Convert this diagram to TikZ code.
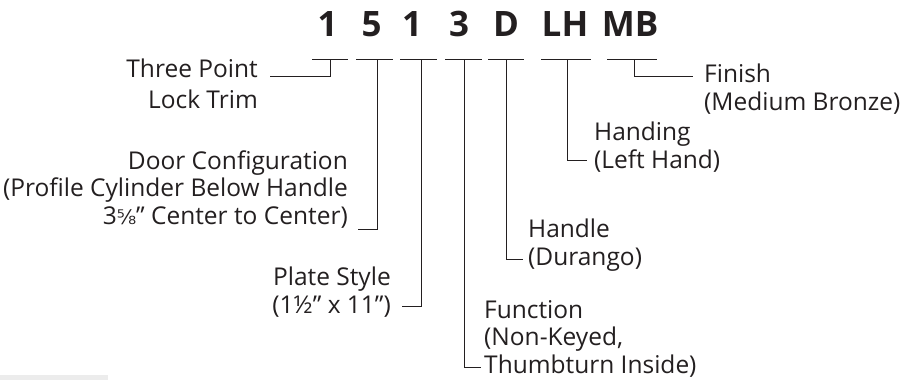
\documentclass[tikz,border=0pt]{standalone}
\usepackage{fontspec}
\setmainfont{Open Sans}
\newfontfamily\fracfont{DejaVu Sans}
\definecolor{ink}{RGB}{35,31,32}
\begin{document}
\begin{tikzpicture}[x=1pt,y=-1pt,
  codechar/.style={font=\fontsize{35}{40}\selectfont\bfseries, inner sep=0pt, anchor=base, text=ink},
  lbl/.style={font=\fontsize{24.5}{27.5}\selectfont, inner sep=0pt, text=ink},
  lblL/.style={lbl, align=right, anchor=base east},
  lblR/.style={lbl, align=left, anchor=base west},
  conn/.style={draw=ink, line width=1pt},
]
\useasboundingbox (0,0) rectangle (907,380);
\fill[gray!15] (0,375) rectangle (108,380);

% code characters
\node[codechar] (c1) at (327.5,36) {1};
\node[codechar] (c2) at (371.5,36) {5};
\node[codechar] (c3) at (412,36) {1};
\node[codechar] (c4) at (459,36) {3};
\node[codechar] (c5) at (506,36) {D};
\node[codechar] (c6) at (565,36) {LH};
\node[codechar] (c7) at (630,36) {MB};

% bars
\coordinate (b1l) at (312,59); \coordinate (b1r) at (348,59); \coordinate (b1) at (330,59);
\coordinate (b2l) at (356,59); \coordinate (b2r) at (393,59); \coordinate (b2) at (377,59);
\coordinate (b3l) at (400,59); \coordinate (b3r) at (437,59); \coordinate (b3) at (421,59);
\coordinate (b4l) at (445,59); \coordinate (b4r) at (482,59); \coordinate (b4) at (464,59);
\coordinate (b5l) at (488,59); \coordinate (b5r) at (524,59); \coordinate (b5) at (506,59);
\coordinate (b6l) at (541,59); \coordinate (b6r) at (591,59); \coordinate (b6) at (567,59);
\coordinate (b7l) at (607,59); \coordinate (b7r) at (657,59); \coordinate (b7) at (634,59);
\foreach \i in {1,...,7} {\draw[conn] (b\i l) -- (b\i r);}

% labels (base anchor = baseline of last line)
\node[lblL, font=\fontsize{24.5}{31}\selectfont] (l1) at (258,108) {Three Point\\Lock Trim};
\node[lblL] (l2) at (348,224) {Door Configuration\\(Profile Cylinder Below Handle\\3{\fracfont\fontsize{20}{22}\selectfont ⅝}” Center to Center)};
\node[lblL] (l3) at (391,313) {Plate Style\\(1½” x 11”)};
\node[lblR] (l4) at (484,373) {Function\\(Non-Keyed,\\Thumbturn Inside)};
\node[lblR] (l5) at (528,265) {Handle\\(Durango)};
\node[lblR] (l6) at (594,168) {Handing\\(Left Hand)};
\node[lblR] (l7) at (704,110) {Finish\\(Medium Bronze)};

% connector ends
\coordinate (e1) at (270,76);
\coordinate (e2) at (358,229);
\coordinate (e3) at (402,306);
\coordinate (e4) at (481,367);
\coordinate (e5) at (523,259);
\coordinate (e6) at (587,160);
\coordinate (e7) at (693,76);
\foreach \i in {1,...,7} {\draw[conn] (b\i) |- (e\i);}
\end{tikzpicture}
\end{document}
